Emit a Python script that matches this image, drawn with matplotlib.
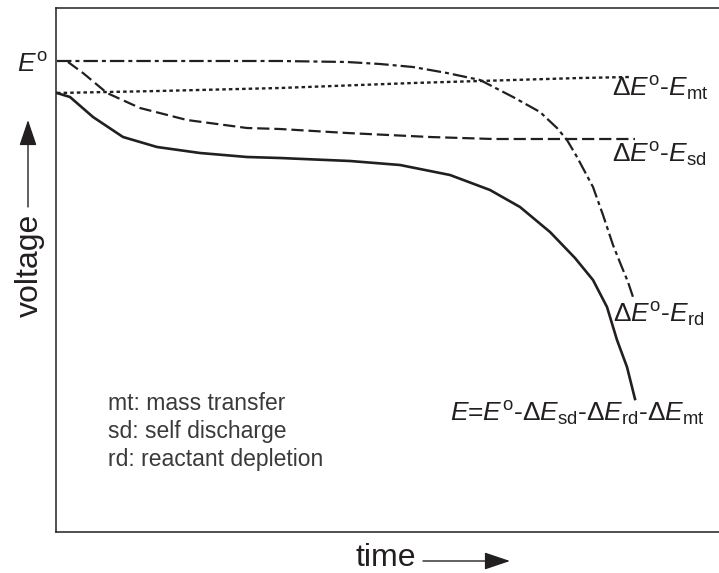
import matplotlib
matplotlib.use("Agg")
import matplotlib.pyplot as plt

plt.rcParams['font.family'] = ['Liberation Sans', 'DejaVu Sans']
plt.rcParams['mathtext.fontset'] = 'custom'
plt.rcParams['mathtext.rm'] = 'Liberation Sans'
plt.rcParams['mathtext.it'] = 'Liberation Sans:italic'
plt.rcParams['mathtext.bf'] = 'Liberation Sans:bold'

INK = '#231f20'

# ---- data (arbitrary time / voltage units) ----
t_rd = [1, 224, 291, 324, 357, 391, 424, 457, 484, 501, 511, 521, 537, 547, 557, 565, 572, 577]
v_rd = [471, 471, 470, 468, 465, 459, 452, 435, 420, 404, 392, 375, 345, 317, 287, 267, 250, 235]

t_mt = [1, 102, 224, 357, 457, 524, 574]
v_mt = [439, 441, 444, 449, 452, 454, 455]

t_sd = [12, 27, 51, 84, 131, 191, 224, 291, 374, 437, 524, 579]
v_sd = [470, 459, 439, 424, 412, 404, 403, 399, 395, 393, 393, 393]

t_E = [1, 14, 37, 67, 101, 144, 191, 224, 294, 344, 394, 434, 464, 494, 519, 537, 551, 561, 571, 579]
v_E = [439, 435, 415, 395, 385, 379, 375, 374, 371, 367, 357, 342, 325, 300, 274, 252, 225, 192, 165, 133]

legend_lines = ["mt: mass transfer", "sd: self discharge", "rd: reactant depletion"]

fig = plt.figure(figsize=(7.19, 5.73), dpi=100)
W, H = 719, 573
ax = fig.add_axes([56 / W, (H - 532) / H, (W - 56) / W, 524 / H])
ax.set_xlim(0, 663)
ax.set_ylim(0, 524)
ax.set_xticks([])
ax.set_yticks([])
ax.spines['right'].set_visible(False)
for s in ['left', 'top', 'bottom']:
    ax.spines[s].set_color(INK)
    ax.spines[s].set_linewidth(1.1)

ax.plot(t_rd, v_rd, color=INK, lw=1.6, dashes=(6.5, 1.8, 1.8, 1.8))
ax.plot(t_mt, v_mt, color=INK, lw=1.7, dashes=(1.5, 1.3))
ax.plot(t_sd, v_sd, color=INK, lw=1.6, dashes=(5.5, 2.2))
ax.plot(t_E, v_E, color=INK, lw=1.9)

fs = 19
ax.text(556, 435, r'Δ$E^{\mathrm{o}}$-$E_{\mathrm{mt}}$', fontsize=fs, color=INK, ha='left', va='baseline')
ax.text(556, 369, r'Δ$E^{\mathrm{o}}$-$E_{\mathrm{sd}}$', fontsize=fs, color=INK, ha='left', va='baseline')
ax.text(557, 209, r'Δ$E^{\mathrm{o}}$-$E_{\mathrm{rd}}$', fontsize=fs, color=INK, ha='left', va='baseline')
ax.text(394, 110, r'$E$=$E^{\mathrm{o}}$-Δ$E_{\mathrm{sd}}$-Δ$E_{\mathrm{rd}}$-Δ$E_{\mathrm{mt}}$',
        fontsize=fs, color=INK, ha='left', va='baseline')
ax.text(-8, 460, r'$E^{\mathrm{o}}$', fontsize=fs, color=INK, ha='right', va='baseline', clip_on=False)

for i, line in enumerate(legend_lines):
    ax.text(52, 122 - 28 * i, line, fontsize=16.5, color='#3a3a3a', ha='left', va='baseline')

# axis labels with arrows (figure pixel coordinates)
fig.text(30 / W, (H - 265) / H, 'voltage', fontsize=23, color=INK, rotation=90, ha='center', va='center')
fig.text(386 / W, (H - 566) / H, 'time', fontsize=23, color=INK, ha='center', va='baseline')
arrow = dict(arrowstyle='-|>,head_length=0.8,head_width=0.27', color=INK, lw=1.0, mutation_scale=20,
             shrinkA=0, shrinkB=0)
ax.annotate('', xy=(28, H - 120), xytext=(28, H - 207), xycoords='figure pixels',
            textcoords='figure pixels', arrowprops=arrow)
ax.annotate('', xy=(510, H - 561), xytext=(423, H - 561), xycoords='figure pixels',
            textcoords='figure pixels', arrowprops=arrow)

fig.savefig('out.png', dpi=100)
